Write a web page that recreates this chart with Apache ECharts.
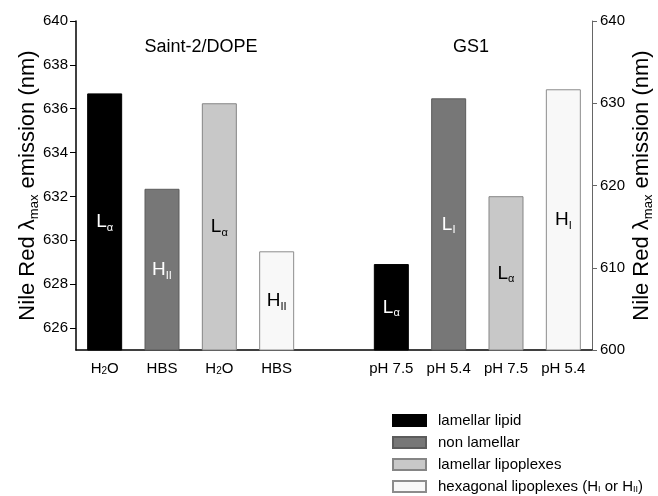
<!DOCTYPE html>
<html><head><meta charset="utf-8">
<script src="https://cdn.jsdelivr.net/npm/echarts@6/dist/echarts.min.js"></script>
<style>html,body{margin:0;padding:0;background:#fff}#c{width:658px;height:496px}</style>
</head><body><div id="c"></div>
<script>
const categories = ['H2O', 'HBS', 'H2O', 'HBS', '', 'pH 7.5', 'pH 5.4', 'pH 7.5', 'pH 5.4'];
const groupTitles = ['Saint-2/DOPE', 'GS1'];
const phaseTypes = ['lamellar lipid', 'non lamellar', 'lamellar lipoplexes', 'hexagonal lipoplexes (HI or HII)'];
const saintValues = [636.7, 632.35, 636.25, 629.5];
const gs1Values = [610.45, 630.6, 618.7, 631.7];
const saintPhase = [['L', 'α'], ['H', 'II'], ['L', 'α'], ['H', 'II']];
const gs1Phase = [['L', 'α'], ['L', 'I'], ['L', 'α'], ['H', 'I']];
const leftTicks = [626, 628, 630, 632, 634, 636, 638, 640];
const rightTicks = [600, 610, 620, 630, 640];

const FONT = 'Liberation Sans, Arial, sans-serif';
const fills = ['#000000', '#777777', '#c8c8c8', '#f8f8f8'];
const borders = ['#000000', '#5c5c5c', '#858585', '#8c8c8c'];
const labelColors = ['#ffffff', '#ffffff', '#000000', '#000000'];

const subRich = (size, subSize, color) => ({
  m: { fontSize: size, color: color, fontFamily: FONT, lineHeight: size + 4 },
  s: { fontSize: subSize, color: color, fontFamily: FONT, verticalAlign: 'bottom', lineHeight: subSize + 1 }
});

function makeSeries(t, axisIndex, offset, values, phases) {
  return {
    name: phaseTypes[t],
    type: 'bar',
    yAxisIndex: axisIndex,
    barWidth: 35,
    barGap: '-100%',
    itemStyle: { color: fills[t], borderColor: borders[t], borderWidth: 1 },
    label: {
      show: true,
      position: 'inside',
      formatter: p => '{m|' + p.data.phase[0] + '}{s|' + p.data.phase[1] + '}',
      rich: subRich(19, 11, labelColors[t])
    },
    data: categories.map((c, i) => i === offset + t ? { value: values[t], phase: phases[t] } : '-')
  };
}

const series = [];
for (let t = 0; t < 4; t++) {
  series.push(makeSeries(t, 0, 0, saintValues, saintPhase));
  series.push(makeSeries(t, 1, 5, gs1Values, gs1Phase));
}

const nameRich = {
  n: { fontSize: 22, fontFamily: FONT, color: '#000', lineHeight: 26 },
  s: { fontSize: 13, fontFamily: FONT, color: '#000', verticalAlign: 'bottom', lineHeight: 14 }
};
const axisName = '{n|Nile Red λ}{s|max}{n| emission (nm)}';

const chart = echarts.init(document.getElementById('c'), null, { renderer: 'canvas' });
chart.setOption({
  animation: false,
  backgroundColor: '#ffffff',
  textStyle: { fontFamily: FONT },
  title: [
    { text: groupTitles[0], left: 201, top: 38, padding: 0, textAlign: 'center', textStyle: { fontSize: 18, fontWeight: 'normal', color: '#000', fontFamily: FONT } },
    { text: groupTitles[1], left: 471, top: 38, padding: 0, textAlign: 'center', textStyle: { fontSize: 18, fontWeight: 'normal', color: '#000', fontFamily: FONT } }
  ],
  grid: { left: 76, right: 66, top: 21, bottom: 146, containLabel: false, outerBoundsMode: 'none' },
  legend: {
    orient: 'vertical',
    left: 392,
    top: 413,
    height: 100,
    padding: 0,
    itemWidth: 33,
    itemHeight: 11,
    itemGap: 7,
    icon: 'rect',
    data: phaseTypes,
    textStyle: {
      fontSize: 15, color: '#000', fontFamily: FONT, padding: [0, 0, 0, 7],
      rich: {
        n: { fontSize: 15, fontFamily: FONT, color: '#000' },
        s: { fontSize: 9, fontFamily: FONT, color: '#000', verticalAlign: 'bottom', lineHeight: 10 }
      }
    },
    formatter: name => name === phaseTypes[3] ? '{n|hexagonal lipoplexes (H}{s|I}{n| or H}{s|II}{n|)}' : name
  },
  xAxis: {
    type: 'category',
    data: categories,
    axisLine: { lineStyle: { color: '#000', width: 1.5 } },
    axisTick: { alignWithLabel: true, length: 5, lineStyle: { color: '#000' } },
    axisLabel: {
      interval: 0, margin: 11, fontSize: 15, color: '#000', fontFamily: FONT,
      formatter: v => v === 'H2O' ? '{n|H}{s|2}{n|O}' : '{n|' + v + '}',
      rich: {
        n: { fontSize: 15, fontFamily: FONT, color: '#000' },
        s: { fontSize: 10, fontFamily: FONT, color: '#000', verticalAlign: 'bottom', lineHeight: 11 }
      }
    },
    splitLine: { show: false }
  },
  yAxis: [
    {
      type: 'value', position: 'left', min: 625, max: 640,
      name: axisName, nameLocation: 'middle', nameGap: 35, nameRotate: 90, nameMoveOverlap: false,
      nameTextStyle: { rich: nameRich },
      axisLine: { show: true, lineStyle: { color: '#000', width: 1.5 } },
      axisTick: { show: true, length: 6, customValues: leftTicks, lineStyle: { color: '#000' } },
      axisLabel: { customValues: leftTicks, fontSize: 15, color: '#000', fontFamily: FONT, margin: 8 },
      splitLine: { show: false }
    },
    {
      type: 'value', position: 'right', min: 600, max: 640, interval: 10,
      name: axisName, nameLocation: 'middle', nameGap: 37, nameRotate: 90, nameMoveOverlap: false,
      nameTextStyle: { rich: nameRich },
      axisLine: { show: true, lineStyle: { color: '#666', width: 1 } },
      axisTick: { show: true, length: 5, customValues: rightTicks, lineStyle: { color: '#666' } },
      axisLabel: { customValues: rightTicks, fontSize: 15, color: '#000', fontFamily: FONT, margin: 8 },
      splitLine: { show: false }
    }
  ],
  series: series
});
</script>
</body></html>
